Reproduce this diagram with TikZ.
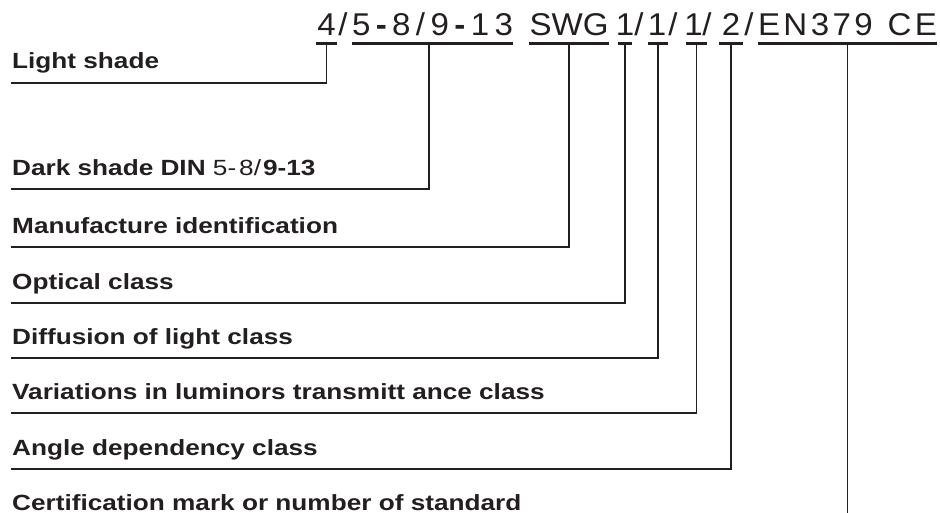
\documentclass[tikz,border=0pt]{standalone}
\usepackage{fontspec}
\setmainfont{Liberation Sans}
\newfontfamily\topfont[FakeStretch=1.05]{Liberation Sans}
\newfontfamily\lblfont[FakeStretch=1.19]{Liberation Sans}
\definecolor{ink}{RGB}{35,31,32}
\begin{document}
\begin{tikzpicture}[x=1pt,y=-1pt,line cap=butt,
  code/.style={inner sep=0pt,anchor=base,font=\topfont\fontsize{31.5}{33}\selectfont,text=ink},
  lbl/.style={inner sep=0pt,anchor=base west,font=\lblfont\bfseries\fontsize{22}{24}\selectfont,text=ink},
  uline/.style={line width=2.8pt,draw=ink},
  conn/.style={line width=1.8pt,draw=ink}]
\useasboundingbox (0,0) rectangle (940,513);

% top code, segment by segment (positions are centres)
\node[code] (s4)   at (326.5,36) {\makebox[21pt][c]{4}};
\node[code] (sl1)  at (343,36)   {/};
\node[code] (sdin) at (432.5,36) {\makebox[161pt][s]{5\hfil\textbf{-}\hfil 8\hfil/\hfil 9\hfil\textbf{-}\hfil 1\hfil 3}};
\node[code] (sswg) at (569,36)   {\makebox[79pt][s]{S\hfil W\hfil G}};
\node[code] (c1)   at (625,36)   {\makebox[14pt][c]{1}};
\node[code] (sl2)  at (639,36)   {/};
\node[code] (c2)   at (658,36)   {\makebox[20pt][c]{\hspace{-2pt}1}};
\node[code] (sl3)  at (673,36)   {/};
\node[code] (c3)   at (696.5,36) {\makebox[21pt][c]{\hspace{-6pt}1}};
\node[code] (sl4)  at (707,36)   {/};
\node[code] (c4)   at (731,36)   {\makebox[24pt][c]{2}};
\node[code] (sl5)  at (749,36)   {/};
\node[code] (sen)  at (847.5,36) {\makebox[179pt][s]{E\hfil N\hfil 3\hfil 7\hfil 9\hfil\hspace{8pt}\hfil C\hfil E}};

% underlines
\foreach \n in {s4,sdin,sswg,c1,c2,c3,c4,sen}
  \draw[uline] ([yshift=-7.5pt]\n.base west) -- ([yshift=-7.5pt]\n.base east);

% labels
\node[lbl] (l1) at (12,69)    {Light shade};
\node[lbl] (l2) at (12,175.5) {Dark shade DIN {\mdseries 5-\hspace{3pt}8/\hspace{2pt}}9-13};
\node[lbl] (l3) at (12,233.5) {Manufacture identification};
\node[lbl] (l4) at (12,289.5) {Optical class};
\node[lbl] (l5) at (12,344.5) {Diffusion of light class};
\node[lbl] (l6) at (12,399.5) {Variations in luminors transmitt ance class};
\node[lbl] (l7) at (12,455.5) {Angle dependency class};
\node[lbl] (l8) at (12,510)   {Certification mark or number of standard};

% line ends
\coordinate (e1) at (11,83);
\coordinate (e2) at (11,189);
\coordinate (e3) at (11,247);
\coordinate (e4) at (11,303);
\coordinate (e5) at (11,358);
\coordinate (e6) at (11,413);
\coordinate (e7) at (11,469);
\coordinate (e8) at (847.5,514);

% connectors
\draw[conn] ([yshift=-7.5pt]s4.base) |- (e1);
\draw[conn] ([xshift=-3.5pt,yshift=-7.5pt]sdin.base) |- (e2);
\draw[conn] ([yshift=-7.5pt]sswg.base) |- (e3);
\draw[conn] ([yshift=-7.5pt]c1.base) |- (e4);
\draw[conn] ([yshift=-7.5pt]c2.base) |- (e5);
\draw[conn] ([yshift=-7.5pt]c3.base) |- (e6);
\draw[conn] ([yshift=-7.5pt]c4.base) |- (e7);
\draw[conn] ([yshift=-7.5pt]sen.base) -- (e8);
\end{tikzpicture}
\end{document}
